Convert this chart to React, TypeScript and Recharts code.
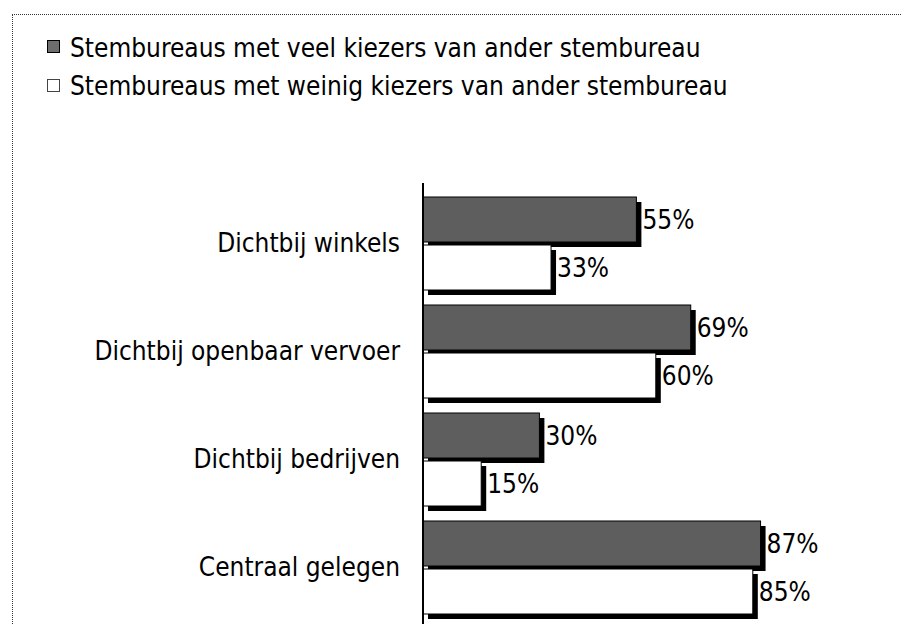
import React from 'react';
import { BarChart, Bar, XAxis, YAxis, LabelList } from 'recharts';

const categories = ['Dichtbij winkels', 'Dichtbij openbaar vervoer', 'Dichtbij bedrijven', 'Centraal gelegen'];
const veelValues = [55, 69, 30, 87];
const weinigValues = [33, 60, 15, 85];
const seriesNames = [
  'Stembureaus met veel kiezers van ander stembureau',
  'Stembureaus met weinig kiezers van ander stembureau',
];
const seriesFills = ['#5e5e5e', '#ffffff'];

const data = categories.map((name, i) => ({ name, veel: veelValues[i], weinig: weinigValues[i] }));

const FONT = "'DejaVu Sans Condensed', 'DejaVu Sans', sans-serif";

const ShadowBar = (props: any) => {
  const { x, y, width, height, fill } = props;
  if (width == null || height == null) return null;
  return (
    <g>
      <rect x={x + 5} y={y + 5} width={width} height={height} fill="#000" />
      <rect x={x} y={y} width={width} height={height} fill={fill} stroke="#000" strokeWidth={1} />
    </g>
  );
};

export default function App() {
  return (
    <div style={{ position: 'relative', width: 901, height: 616, background: '#fff', fontFamily: FONT, overflow: 'hidden' }}>
      <div
        style={{
          position: 'absolute',
          left: 4,
          top: 6,
          width: 901,
          height: 616,
          borderTop: '1px dotted #333',
          borderLeft: '1px dotted #333',
          boxSizing: 'border-box',
        }}
      />
      {seriesNames.map((s, i) => (
        <React.Fragment key={s}>
          <div
            style={{
              position: 'absolute',
              left: 39,
              top: 32 + i * 39,
              width: 13,
              height: 13,
              boxSizing: 'border-box',
              background: i === 0 ? '#6e6e6e' : '#fff',
              border: i === 0 ? '1px solid #000' : '1px solid #444',
            }}
          />
          <div
            style={{
              position: 'absolute',
              left: 62,
              top: 21 + i * 38,
              fontSize: 26,
              lineHeight: '38px',
              whiteSpace: 'nowrap',
              color: '#000',
              fontFamily: FONT,
            }}
          >
            {s}
          </div>
        </React.Fragment>
      ))}
      <div style={{ position: 'absolute', left: 0, top: 0 }}>
        <BarChart
          width={901}
          height={616}
          data={data}
          layout="vertical"
          margin={{ top: 175, right: 98, bottom: 0, left: 0 }}
          barSize={45}
          barGap={3}
        >
          <XAxis type="number" domain={[0, 100]} hide />
          <YAxis
            type="category"
            dataKey="name"
            width={415}
            padding={{ top: 6, bottom: 3 }}
            tickLine={false}
            tickSize={0}
            tickMargin={23}
            axisLine={{ stroke: '#000', strokeWidth: 2 }}
            tick={{ fill: '#000', fontSize: 26, fontFamily: FONT }}
          />
          <Bar dataKey="veel" name={seriesNames[0]} fill={seriesFills[0]} shape={ShadowBar} isAnimationActive={false}>
            <LabelList
              dataKey="veel"
              position="right"
              offset={6}
              formatter={(v: any) => `${v}%`}
              style={{ fill: '#000', fontSize: 26, fontFamily: FONT }}
            />
          </Bar>
          <Bar dataKey="weinig" name={seriesNames[1]} fill={seriesFills[1]} shape={ShadowBar} isAnimationActive={false}>
            <LabelList
              dataKey="weinig"
              position="right"
              offset={6}
              formatter={(v: any) => `${v}%`}
              style={{ fill: '#000', fontSize: 26, fontFamily: FONT }}
            />
          </Bar>
        </BarChart>
      </div>
    </div>
  );
}
